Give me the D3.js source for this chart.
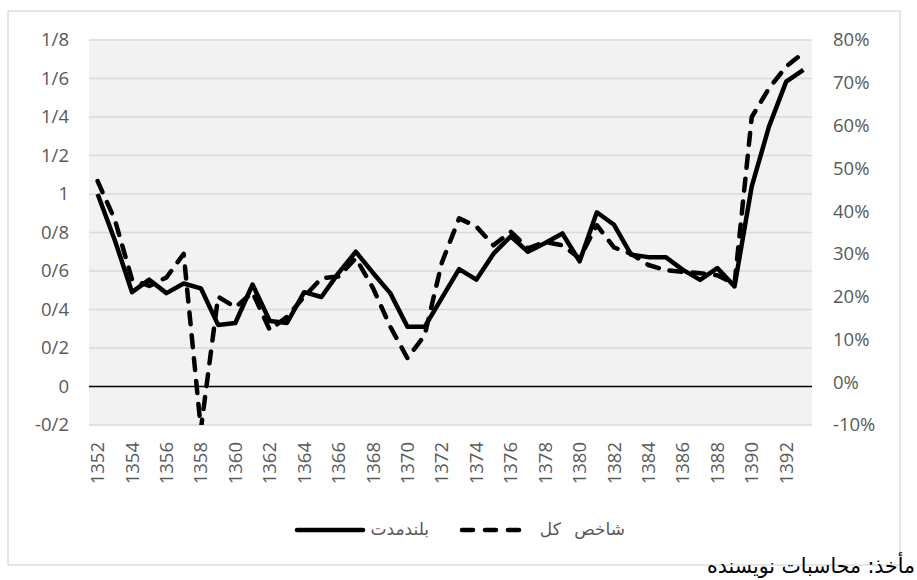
<!DOCTYPE html>
<html>
<head>
<meta charset="utf-8">
<script src="https://cdn.jsdelivr.net/npm/d3@7"></script>
<style>
  body { margin: 0; background: #fff; }
  svg { display: block; }
</style>
</head>
<body>
<div id="chart"></div>
<script>
// categories (years)
const years = [1352, 1353, 1354, 1355, 1356, 1357, 1358, 1359, 1360, 1361,
  1362, 1363, 1364, 1365, 1366, 1367, 1368, 1369, 1370, 1371,
  1372, 1373, 1374, 1375, 1376, 1377, 1378, 1379, 1380, 1381,
  1382, 1383, 1384, 1385, 1386, 1387, 1388, 1389, 1390, 1391,
  1392, 1393]
// بلندمدت (left axis)
const longTerm = [1.00, 0.76, 0.49, 0.555, 0.485, 0.535, 0.51, 0.32, 0.33, 0.53,
  0.34, 0.33, 0.49, 0.465, 0.59, 0.70, 0.59, 0.485, 0.31, 0.31,
  0.46, 0.61, 0.555, 0.69, 0.78, 0.70, 0.745, 0.795, 0.65, 0.905,
  0.84, 0.684, 0.672, 0.672, 0.606, 0.554, 0.615, 0.52, 1.04, 1.35,
  1.584, 1.645]
// شاخص کل (right axis, %)
const totalIndex = [47, 38, 24, 22.5, 24.5, 30, -11, 20, 17.5, 21,
  12.2, 15.3, 20, 24.3, 24.7, 29, 22, 13, 5.6, 11,
  28, 38.3, 36.4, 32, 35.2, 31.3, 32.8, 32, 29, 36.7,
  31.5, 30, 27.4, 26.2, 25.8, 25.5, 25, 23, 62, 68.7,
  73.8, 77]
const leftTicks = [-0.2, 0, 0.2, 0.4, 0.6, 0.8, 1, 1.2, 1.4, 1.6, 1.8]
const rightTicks = [-10, 0, 10, 20, 30, 40, 50, 60, 70, 80]
const xLabels = years.filter((y, i) => i % 2 === 0)
const legendNames = ['بلندمدت', 'شاخص کل']
const caption = 'مأخذ: محاسبات نویسنده'

const W = 917, H = 580
const pa = { left: 89, right: 812, top: 40, bottom: 425 } // plot area
const font = '"Open Sans", sans-serif'
const faFont = '"DejaVu Sans", sans-serif'
const grey = '#595959'

const svg = d3.select('#chart').append('svg')
  .attr('width', W).attr('height', H)
  .attr('viewBox', [0, 0, W, H])

// outer chart border
svg.append('rect')
  .attr('x', 8).attr('y', 11).attr('width', 892).attr('height', 554)
  .attr('fill', '#fff').attr('stroke', '#d9d9d9').attr('stroke-width', 1.3)

const x = d3.scaleBand().domain(years).range([pa.left, pa.right])
const yL = d3.scaleLinear().domain([-0.2, 1.8]).range([pa.bottom, pa.top])
const yR = d3.scaleLinear().domain([-10, 80]).range([pa.bottom, pa.top])

svg.append('rect')
  .attr('x', pa.left).attr('y', pa.top)
  .attr('width', pa.right - pa.left).attr('height', pa.bottom - pa.top)
  .attr('fill', '#f2f2f2')

// gridlines
svg.append('g').selectAll('line')
  .data(leftTicks.filter(d => d !== 0))
  .join('line')
  .attr('x1', pa.left).attr('x2', pa.right)
  .attr('y1', d => yL(d)).attr('y2', d => yL(d))
  .attr('stroke', '#d9d9d9').attr('stroke-width', 1.5)

// left axis - persian decimal separator "/"
const fmtL = d => d3.format('.1~f')(d).replace('.', '/').replace('\u2212', '-')
const gL = svg.append('g')
  .attr('transform', `translate(${pa.left - 20},0)`)
  .call(d3.axisLeft(yL).tickValues(leftTicks).tickFormat(fmtL).tickSize(0).tickPadding(0))
gL.select('.domain').remove()
gL.selectAll('text').attr('font-family', font).attr('font-size', 18.5).attr('fill', grey)

// right axis
const gR = svg.append('g')
  .attr('transform', `translate(${pa.right + 21},0)`)
  .call(d3.axisRight(yR).tickValues(rightTicks).tickFormat(d => d + '%').tickSize(0).tickPadding(0))
gR.select('.domain').remove()
gR.selectAll('text').attr('font-family', font).attr('font-size', 18.5).attr('fill', grey)

// x labels
const gX = svg.append('g')
  .attr('transform', `translate(0,${pa.bottom + 17})`)
  .call(d3.axisBottom(x).tickValues(xLabels).tickSize(0).tickPadding(0))
gX.select('.domain').remove()
gX.selectAll('text')
  .attr('font-family', font).attr('font-size', 18.5).attr('fill', grey)
  .attr('transform', 'rotate(-90)')
  .attr('text-anchor', 'end')
  .attr('x', 0).attr('y', 0).attr('dy', '0.35em')

// zero line
svg.append('line')
  .attr('x1', pa.left).attr('x2', pa.right)
  .attr('y1', yL(0)).attr('y2', yL(0))
  .attr('stroke', '#000').attr('stroke-width', 1.5)

svg.append('clipPath').attr('id', 'clip')
  .append('rect')
  .attr('x', pa.left).attr('y', pa.top - 10)
  .attr('width', pa.right - pa.left).attr('height', pa.bottom - pa.top + 10)

const cx = d => x(d) + x.bandwidth() / 2
const lineL = d3.line().x((d, i) => cx(years[i])).y(d => yL(d))
const lineR = d3.line().x((d, i) => cx(years[i])).y(d => yR(d))

const lines = svg.append('g').attr('clip-path', 'url(#clip)')
lines.append('path')
  .attr('d', lineR(totalIndex))
  .attr('fill', 'none').attr('stroke', '#000').attr('stroke-width', 4.5)
  .attr('stroke-dasharray', '12,11').attr('stroke-linecap', 'round')
  .attr('stroke-linejoin', 'round')
lines.append('path')
  .attr('d', lineL(longTerm))
  .attr('fill', 'none').attr('stroke', '#000').attr('stroke-width', 4.5)
  .attr('stroke-linejoin', 'round')

// legend
const leg = svg.append('g')
leg.append('line')
  .attr('x1', 297).attr('x2', 363).attr('y1', 530).attr('y2', 530)
  .attr('stroke', '#000').attr('stroke-width', 4.5).attr('stroke-linecap', 'round')
leg.append('text')
  .attr('x', 429).attr('y', 529).attr('dy', '0.35em')
  .attr('text-anchor', 'end')
  .attr('font-family', faFont).attr('font-size', 17).attr('fill', grey)
  .text(legendNames[0])
leg.append('line')
  .attr('x1', 462).attr('x2', 521).attr('y1', 530).attr('y2', 530)
  .attr('stroke', '#000').attr('stroke-width', 4.5).attr('stroke-linecap', 'round')
  .attr('stroke-dasharray', '11,12')
leg.append('text')
  .attr('x', 625).attr('y', 529).attr('dy', '0.35em')
  .attr('text-anchor', 'end')
  .attr('font-family', faFont).attr('font-size', 17).attr('fill', grey)
  .attr('word-spacing', 8)
  .text(legendNames[1])

// caption
svg.append('text')
  .attr('x', 915).attr('y', 573)
  .attr('text-anchor', 'end')
  .attr('font-family', faFont).attr('font-size', 20.5).attr('fill', '#000')
  .text(caption)
</script>
</body>
</html>
